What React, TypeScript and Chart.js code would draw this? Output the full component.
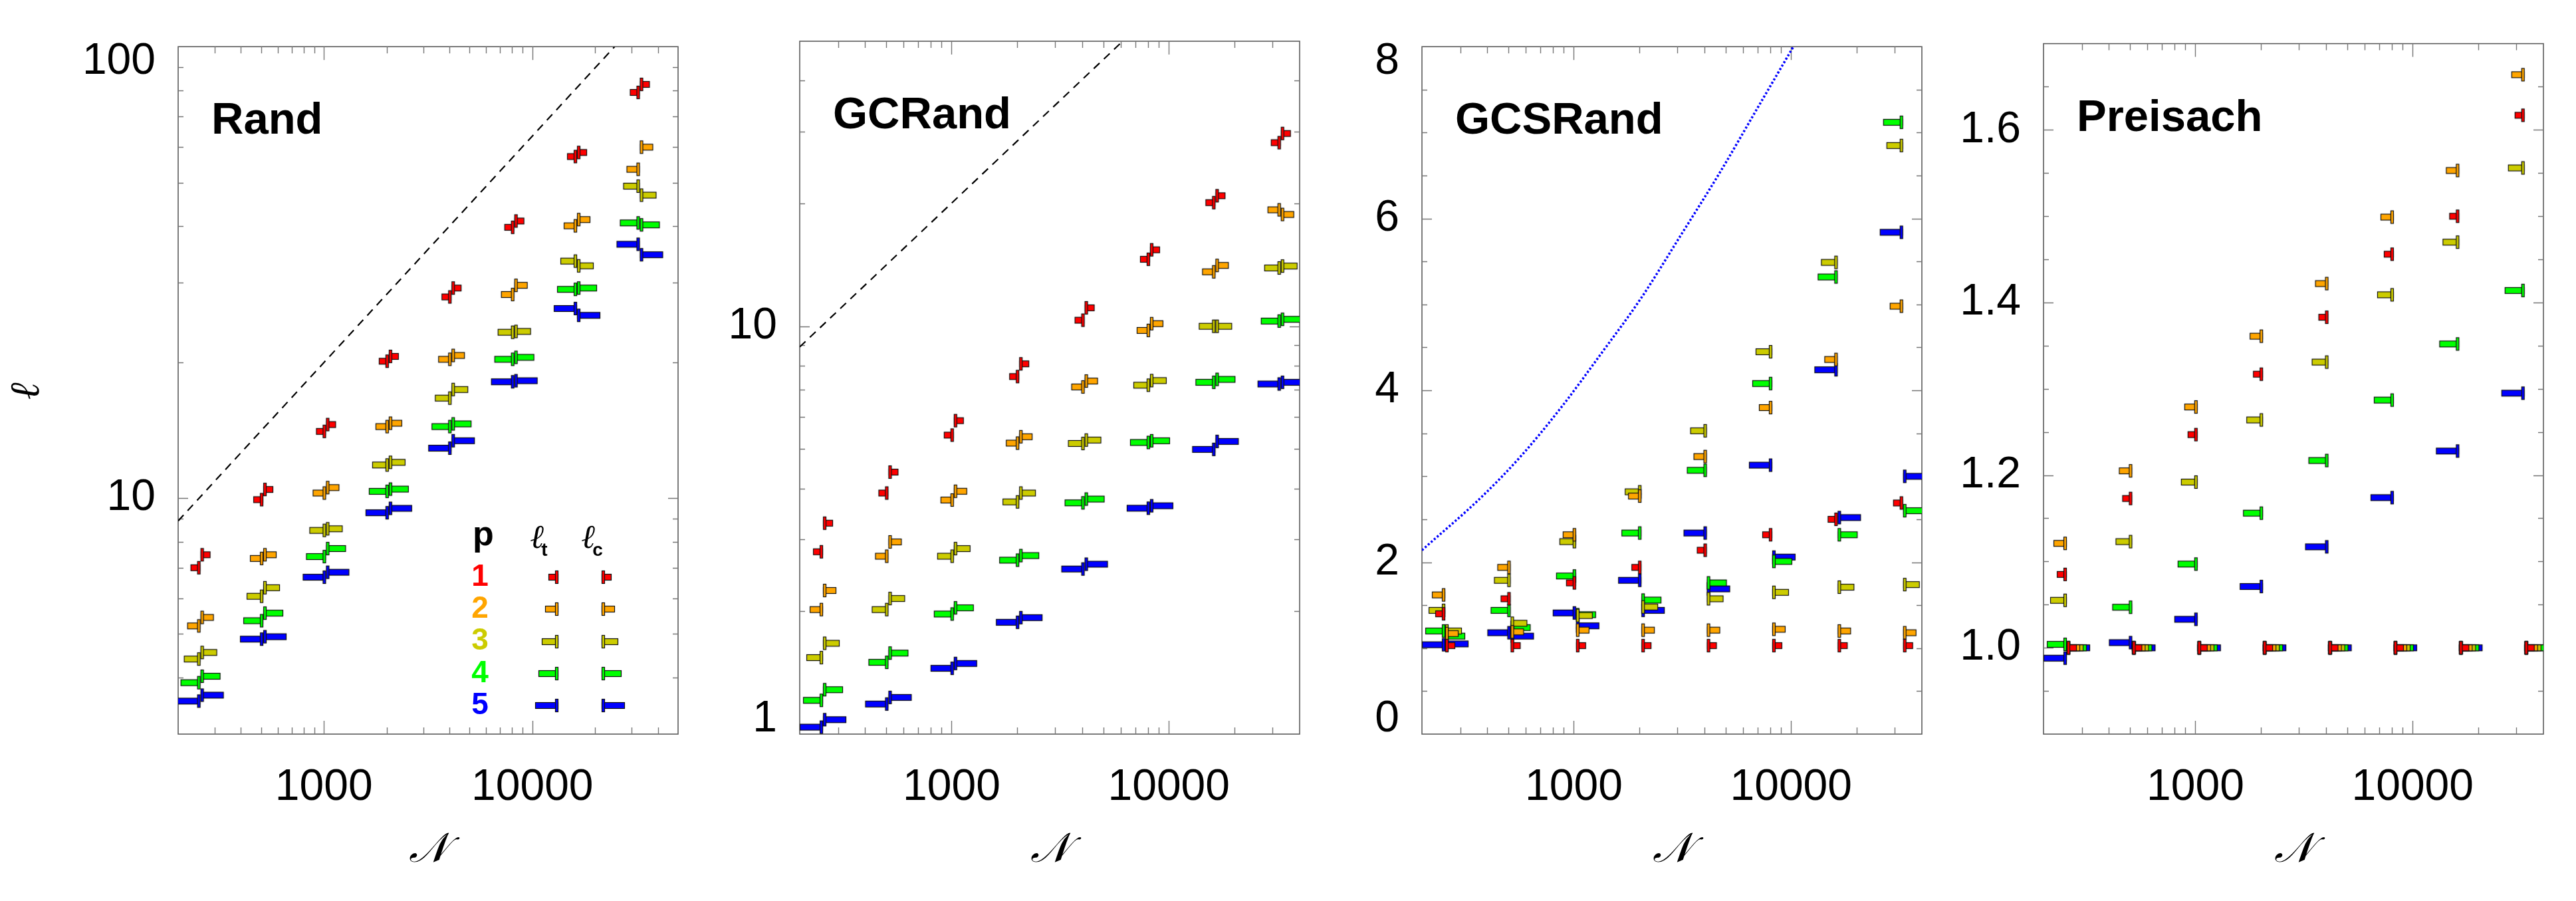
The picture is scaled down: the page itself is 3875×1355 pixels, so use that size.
import { useEffect, useRef } from 'react';
import { Chart, registerables } from 'chart.js';

Chart.register(...registerables);

// System sizes N shared by all four panels
const SYSTEM_SIZES = [256, 512, 1024, 2048, 4096, 8192, 16384, 32768];
const P_VALUES = [1, 2, 3, 4, 5];
const P_COLORS = ['#ff0000', '#ffa500', '#cccc00', '#00ff00', '#0000ff'];

// Rows: p = 1..5, columns follow SYSTEM_SIZES
const RAND_LT = [
  [7.01, 9.92, 14.05, 20.1, 27.9, 39.8, 57.1, 79.2],
  [5.21, 7.35, 10.26, 14.4, 20.3, 28.25, 40.1, 53.5],
  [4.4, 6.06, 8.48, 11.84, 16.65, 23.3, 33.5, 49.1],
  [3.9, 5.35, 7.42, 10.35, 14.4, 20.3, 29.0, 40.7],
  [3.55, 4.87, 6.68, 9.28, 12.9, 18.1, 26.3, 36.5],
];
const RAND_LC = [
  [7.49, 10.45, 14.55, 20.6, 29.2, 41.1, 58.3, 82.5],
  [5.44, 7.49, 10.55, 14.65, 20.7, 29.6, 41.4, 59.9],
  [4.55, 6.33, 8.55, 12.0, 17.4, 23.4, 32.7, 46.9],
  [4.03, 5.56, 7.73, 10.47, 14.6, 20.5, 29.2, 40.3],
  [3.66, 4.93, 6.85, 9.49, 13.4, 18.2, 25.4, 34.6],
];

const GCRAND_LT = [
  [2.8, 3.9, 5.41, 7.53, 10.35, 14.6, 20.1, 28.2],
  [2.02, 2.73, 3.75, 5.17, 7.1, 9.77, 13.6, 19.3],
  [1.54, 2.02, 2.73, 3.71, 5.16, 7.17, 10.0, 13.9],
  [1.21, 1.5, 1.97, 2.67, 3.69, 5.19, 7.29, 10.3],
  [1.04, 1.185, 1.45, 1.88, 2.54, 3.58, 4.99, 7.22],
];
const GCRAND_LC = [
  [3.29, 4.39, 5.87, 8.09, 11.1, 15.4, 20.9, 29.7],
  [2.25, 2.96, 3.94, 5.36, 7.34, 10.15, 14.1, 18.8],
  [1.67, 2.15, 2.85, 3.9, 5.26, 7.36, 10.0, 14.05],
  [1.285, 1.58, 2.04, 2.74, 3.77, 5.24, 7.41, 10.4],
  [1.085, 1.23, 1.49, 1.93, 2.61, 3.63, 5.22, 7.29],
];

const GCSRAND_LT = [
  [1.4, 1.575, 1.76, 1.94, 2.14, 2.32, 2.5, 2.69],
  [1.62, 1.94, 2.32, 2.77, 3.23, 3.8, 4.36, 4.98],
  [1.44, 1.79, 2.24, 2.82, 3.53, 4.45, 5.49, 6.85],
  [1.2, 1.44, 1.84, 2.34, 3.07, 4.08, 5.32, 7.12],
  [1.04, 1.18, 1.41, 1.79, 2.34, 3.13, 4.24, 5.84],
];
const GCSRAND_LC = [
  [1.03, 1.03, 1.03, 1.03, 1.03, 1.03, 1.03, 1.03],
  [1.17, 1.19, 1.21, 1.21, 1.21, 1.22, 1.2, 1.18],
  [1.2, 1.29, 1.38, 1.48, 1.575, 1.65, 1.71, 1.74],
  [1.14, 1.24, 1.39, 1.56, 1.76, 2.01, 2.32, 2.6],
  [1.05, 1.14, 1.26, 1.44, 1.69, 2.06, 2.52, 3.0],
];

const PREISACH_LT = [
  [1.085, 1.173, 1.247, 1.317, 1.383, 1.456, 1.5, 1.617],
  [1.121, 1.205, 1.279, 1.361, 1.422, 1.499, 1.553, 1.664],
  [1.055, 1.123, 1.192, 1.264, 1.331, 1.409, 1.47, 1.556],
  [1.004, 1.047, 1.097, 1.156, 1.217, 1.287, 1.352, 1.414],
  [0.988, 1.006, 1.033, 1.071, 1.117, 1.174, 1.228, 1.295],
];
const PREISACH_LC = [
  [1.0, 1.0, 1.0, 1.0, 1.0, 1.0, 1.0, 1.0],
  [1.0, 1.0, 1.0, 1.0, 1.0, 1.0, 1.0, 1.0],
  [1.0, 1.0, 1.0, 1.0, 1.0, 1.0, 1.0, 1.0],
  [1.0, 1.0, 1.0, 1.0, 1.0, 1.0, 1.0, 1.0],
  [1.0, 1.0, 1.0, 1.0, 1.0, 1.0, 1.0, 1.0],
];

// Square-root guide lines (dashed)
const RAND_GUIDE_N = [200, 24800];
const RAND_GUIDE_L = [8.9, 100];
const GCRAND_GUIDE_N = [200, 6130];
const GCRAND_GUIDE_L = [8.9, 50];
// Dotted bound in the GCSRand panel
const GCSRAND_BOUND_N = [200, 380, 578, 880, 1338, 2036, 3098, 4713, 7171, 10245];
const GCSRAND_BOUND_L = [2.14, 2.77, 3.25, 3.81, 4.43, 5.07, 5.8, 6.54, 7.33, 8.0];

// Tick labels
const X_TICK_LABELS = [1000, 10000];
const RAND_Y_LABELS = [10, 100];
const GCRAND_Y_LABELS = [1, 10];
const GCSRAND_Y_LABELS = [0, 2, 4, 6, 8];
const PREISACH_Y_LABELS = [1.0, 1.2, 1.4, 1.6];

const PAGE_W = 3875;
const PAGE_H = 1355;
const PLOT_TOP = 62;
const PLOT_BOTTOM = 1104;
const PLOT_W = 765;
const RIGHT_PAD = 20;

const SANS = '"Liberation Sans", Arial, sans-serif';
const SERIF = '"DejaVu Serif", "Liberation Serif", serif';

type Guide = { n: number[]; l: number[]; color: string; dash: number[]; width: number; smooth: boolean };
type Panel = {
  key: string;
  title: string;
  frameLeft: number;
  axisWidth: number;
  xMax: number;
  yType: 'logarithmic' | 'linear';
  yMin: number;
  yMax: number;
  yLabels: number[];
  decimals: number;
  minorStep?: number;
  majorEvery?: number;
  lt: number[][];
  lc: number[][];
  guide: Guide;
  yTitle: boolean;
  legend: boolean;
};

const PANELS: Panel[] = [
  {
    key: 'rand', title: 'Rand', frameLeft: 268, axisWidth: 268, xMax: 50000,
    yType: 'logarithmic', yMin: 3, yMax: 100, yLabels: RAND_Y_LABELS, decimals: 0,
    lt: RAND_LT, lc: RAND_LC,
    guide: { n: RAND_GUIDE_N, l: RAND_GUIDE_L, color: '#000', dash: [12, 9], width: 2.2, smooth: false },
    yTitle: true, legend: true,
  },
  {
    key: 'gcrand', title: 'GCRand', frameLeft: 1203, axisWidth: 200, xMax: 40000,
    yType: 'logarithmic', yMin: 1, yMax: 50, yLabels: GCRAND_Y_LABELS, decimals: 0,
    lt: GCRAND_LT, lc: GCRAND_LC,
    guide: { n: GCRAND_GUIDE_N, l: GCRAND_GUIDE_L, color: '#000', dash: [12, 9], width: 2.2, smooth: false },
    yTitle: false, legend: false,
  },
  {
    key: 'gcsrand', title: 'GCSRand', frameLeft: 2139, axisWidth: 200, xMax: 40000,
    yType: 'linear', yMin: 0, yMax: 8, yLabels: GCSRAND_Y_LABELS, decimals: 0,
    minorStep: 0.5, majorEvery: 4,
    lt: GCSRAND_LT, lc: GCSRAND_LC,
    guide: { n: GCSRAND_BOUND_N, l: GCSRAND_BOUND_L, color: '#0000ff', dash: [3, 3], width: 3.5, smooth: true },
    yTitle: false, legend: false,
  },
  {
    key: 'preisach', title: 'Preisach', frameLeft: 3074, axisWidth: 200, xMax: 40000,
    yType: 'linear', yMin: 0.9, yMax: 1.7, yLabels: PREISACH_Y_LABELS, decimals: 1,
    minorStep: 0.05, majorEvery: 4,
    lt: PREISACH_LT, lc: PREISACH_LC,
    guide: { n: [], l: [], color: '#000', dash: [], width: 0, smooth: false },
    yTitle: false, legend: false,
  },
];

// Marker glyph: a bar whose length grows with p, capped by a taller tick at N
const BAR_H = 10;
const TICK_H = 20;
const TICK_W = 5;
const barLength = (p: number) => 10 + 5 * p;

function makeGlyph(color: string, p: number, kind: 'lt' | 'lc'): HTMLCanvasElement {
  const len = barLength(p);
  const half = len + 3;
  const cv = document.createElement('canvas');
  cv.width = half * 2;
  cv.height = TICK_H + 6;
  const g = cv.getContext('2d')!;
  const cx = half;
  const cy = cv.height / 2;
  const barX = kind === 'lt' ? cx - len : cx;
  const tickX = kind === 'lt' ? cx - TICK_W : cx;
  g.fillStyle = color;
  g.strokeStyle = '#111';
  g.lineWidth = 1.2;
  g.fillRect(barX, cy - BAR_H / 2, len, BAR_H);
  g.strokeRect(barX + 0.5, cy - BAR_H / 2 + 0.5, len - 1, BAR_H - 1);
  g.fillRect(tickX, cy - TICK_H / 2, TICK_W, TICK_H);
  g.strokeRect(tickX + 0.5, cy - TICK_H / 2 + 0.5, TICK_W - 1, TICK_H - 1);
  return cv;
}

const near = (a: number, b: number) => Math.abs(a - b) < 1e-6 * Math.max(1, Math.abs(b));

function frameTickValues(scale: any, panelMinor?: number, majorEvery?: number) {
  const out: { v: number; major: boolean }[] = [];
  const min = scale.min;
  const max = scale.max;
  if (scale.type === 'logarithmic') {
    for (let e = Math.floor(Math.log10(min)); e <= Math.ceil(Math.log10(max)); e++) {
      for (let k = 1; k <= 9; k++) {
        const v = k * Math.pow(10, e);
        if (v > min * 1.0001 && v < max * 0.9999) out.push({ v, major: k === 1 });
      }
    }
  } else if (panelMinor && majorEvery) {
    const i0 = Math.ceil(min / panelMinor - 1e-9);
    const i1 = Math.floor(max / panelMinor + 1e-9);
    for (let i = i0; i <= i1; i++) {
      const v = i * panelMinor;
      if (v <= min + 1e-9 || v >= max - 1e-9) continue;
      out.push({ v, major: i % majorEvery === 0 });
    }
  }
  return out;
}

function buildChart(canvas: HTMLCanvasElement, panel: Panel) {
  const ltGlyphs = P_VALUES.map((p, k) => makeGlyph(P_COLORS[k], p, 'lt'));
  const lcGlyphs = P_VALUES.map((p, k) => makeGlyph(P_COLORS[k], p, 'lc'));

  const datasets: any[] = [];
  P_VALUES.forEach((p, k) => {
    datasets.push({
      label: `p=${p} ℓt`,
      data: SYSTEM_SIZES.map((n, i) => ({ x: n, y: panel.lt[k][i] })),
      pointStyle: ltGlyphs[k],
      pointRadius: 12,
      showLine: false,
      clip: 0,
      backgroundColor: P_COLORS[k],
      borderColor: P_COLORS[k],
    });
    datasets.push({
      label: `p=${p} ℓc`,
      data: SYSTEM_SIZES.map((n, i) => ({ x: n, y: panel.lc[k][i] })),
      pointStyle: lcGlyphs[k],
      pointRadius: 12,
      showLine: false,
      clip: 0,
      backgroundColor: P_COLORS[k],
      borderColor: P_COLORS[k],
    });
  });
  if (panel.guide.n.length) {
    datasets.push({
      label: 'guide',
      data: panel.guide.n.map((n, i) => ({ x: n, y: panel.guide.l[i] })),
      showLine: true,
      pointRadius: 0,
      borderColor: panel.guide.color,
      borderWidth: panel.guide.width,
      borderDash: panel.guide.dash,
      cubicInterpolationMode: panel.guide.smooth ? 'monotone' : 'default',
      fill: false,
      clip: 0,
    });
  }

  const isEdge = (v: number) => near(v, panel.yMin) || near(v, panel.yMax);

  const framePlugin = {
    id: 'frameAndLabel',
    beforeDatasetsDraw(chart: any) {
      const { ctx, chartArea: a, scales } = chart;
      ctx.save();
      ctx.strokeStyle = '#5c5c5c';
      ctx.lineWidth = 1.6;
      ctx.strokeRect(a.left, a.top, a.right - a.left, a.bottom - a.top);
      ctx.lineWidth = 1.4;
      ctx.strokeStyle = '#777';
      ctx.beginPath();
      for (const t of frameTickValues(scales.x)) {
        const px = Math.round(scales.x.getPixelForValue(t.v)) + 0.5;
        const len = t.major ? 20 : 10;
        ctx.moveTo(px, a.bottom);
        ctx.lineTo(px, a.bottom - len);
        ctx.moveTo(px, a.top);
        ctx.lineTo(px, a.top + len);
      }
      for (const t of frameTickValues(scales.y, panel.minorStep, panel.majorEvery)) {
        const py = Math.round(scales.y.getPixelForValue(t.v)) + 0.5;
        const len = t.major ? 15 : 8;
        ctx.moveTo(a.left, py);
        ctx.lineTo(a.left + len, py);
        ctx.moveTo(a.right, py);
        ctx.lineTo(a.right - len, py);
      }
      ctx.stroke();
      ctx.fillStyle = '#000';
      ctx.font = `bold 67px ${SANS}`;
      ctx.textAlign = 'left';
      ctx.textBaseline = 'alphabetic';
      ctx.fillText(panel.title, a.left + 50, a.top + 131);
      ctx.restore();
    },
    afterDatasetsDraw(chart: any) {
      if (!panel.legend) return;
      const { ctx, chartArea: a } = chart;
      ctx.save();
      ctx.fillStyle = '#000';
      ctx.textAlign = 'center';
      ctx.textBaseline = 'alphabetic';
      ctx.font = `bold 52px ${SANS}`;
      ctx.fillText('p', a.left + 459, a.top + 750);
      const headers: [string, number][] = [['t', 530], ['c', 607]];
      headers.forEach(([sub, dx]) => {
        ctx.textAlign = 'left';
        ctx.font = `italic bold 50px ${SERIF}`;
        ctx.fillText('ℓ', a.left + dx, a.top + 754);
        const w = ctx.measureText('ℓ').width;
        ctx.font = `bold 28px ${SANS}`;
        ctx.fillText(sub, a.left + dx + w - 5, a.top + 766);
      });
      P_VALUES.forEach((p, k) => {
        const y = a.top + 798 + k * 48.25;
        ctx.fillStyle = P_COLORS[k];
        ctx.font = `bold 46px ${SANS}`;
        ctx.textAlign = 'center';
        ctx.textBaseline = 'middle';
        ctx.fillText(String(p), a.left + 454, y);
        const gl = ltGlyphs[k];
        const gc = lcGlyphs[k];
        ctx.drawImage(gl, Math.round(a.left + 572 - gl.width / 2), Math.round(y - gl.height / 2));
        ctx.drawImage(gc, Math.round(a.left + 637 - gc.width / 2), Math.round(y - gc.height / 2));
      });
      ctx.restore();
    },
  };

  const yTicks: any = {
    autoSkip: false,
    padding: 26,
    color: '#000',
    font: (c: any) => {
      const v = c.tick ? c.tick.value : NaN;
      return { family: SANS, size: 66, lineHeight: isEdge(v) ? 0.67 : 1.2 };
    },
    callback: (value: number) => {
      const hit = panel.yLabels.find((L) => near(value, L));
      if (hit === undefined) return '';
      const text = hit.toFixed(panel.decimals);
      if (near(value, panel.yMax)) return ['', text];
      if (near(value, panel.yMin)) return [text, ''];
      return text;
    },
  };

  const yScale: any = {
    type: panel.yType,
    position: 'left',
    min: panel.yMin,
    max: panel.yMax,
    grid: { display: false },
    border: { display: false },
    afterFit: (s: any) => { s.width = panel.axisWidth; },
    ticks: yTicks,
    title: {
      display: panel.yTitle,
      text: 'ℓ',
      color: '#000',
      font: { family: SERIF, size: 62, style: 'italic', weight: 'bold', lineHeight: 1 },
      padding: { top: 11, bottom: 0 },
    },
  };
  if (panel.yType === 'linear') {
    // labelled ticks only; the minor frame ticks are drawn by the frame plugin
    yScale.afterBuildTicks = (s: any) => {
      s.ticks = panel.yLabels.map((v) => ({ value: v }));
    };
  }

  return new Chart(canvas, {
    type: 'scatter',
    data: { datasets },
    plugins: [framePlugin],
    options: {
      responsive: false,
      maintainAspectRatio: false,
      animation: false,
      devicePixelRatio: 1,
      events: [],
      layout: { padding: { top: PLOT_TOP, right: RIGHT_PAD, bottom: 0, left: 0 } },
      plugins: { legend: { display: false }, tooltip: { enabled: false }, title: { display: false } },
      scales: {
        x: {
          type: 'logarithmic',
          position: 'bottom',
          min: 200,
          max: panel.xMax,
          grid: { display: false },
          border: { display: false },
          afterFit: (s: any) => { s.height = PAGE_H - PLOT_BOTTOM; },
          ticks: {
            autoSkip: false,
            maxRotation: 0,
            minRotation: 0,
            padding: 33,
            color: '#000',
            font: { family: SANS, size: 66 },
            callback: (value: number) => {
              const hit = X_TICK_LABELS.find((L) => near(value, L));
              return hit === undefined ? '' : String(hit);
            },
          },
          title: {
            display: true,
            text: '𝒩',
            color: '#000',
            font: { family: SERIF, size: 62, style: 'italic', lineHeight: 1 },
            padding: { top: 0, bottom: 44 },
          },
        },
        y: yScale,
      },
    } as any,
  });
}

export default function App() {
  const canvases = useRef<(HTMLCanvasElement | null)[]>([]);

  useEffect(() => {
    const charts = PANELS.map((panel, i) => buildChart(canvases.current[i]!, panel));
    return () => charts.forEach((c) => c.destroy());
  }, []);

  return (
    <div
      style={{
        position: 'absolute',
        left: 0,
        top: 0,
        width: PAGE_W,
        height: PAGE_H,
        background: '#fff',
        overflow: 'hidden',
      }}
    >
      {PANELS.map((panel, i) => {
        const w = panel.axisWidth + PLOT_W + RIGHT_PAD;
        return (
          <canvas
            key={panel.key}
            ref={(el) => { canvases.current[i] = el; }}
            width={w}
            height={PAGE_H}
            style={{
              position: 'absolute',
              left: panel.frameLeft - panel.axisWidth,
              top: 0,
              width: w,
              height: PAGE_H,
              display: 'block',
            }}
          />
        );
      })}
    </div>
  );
}
